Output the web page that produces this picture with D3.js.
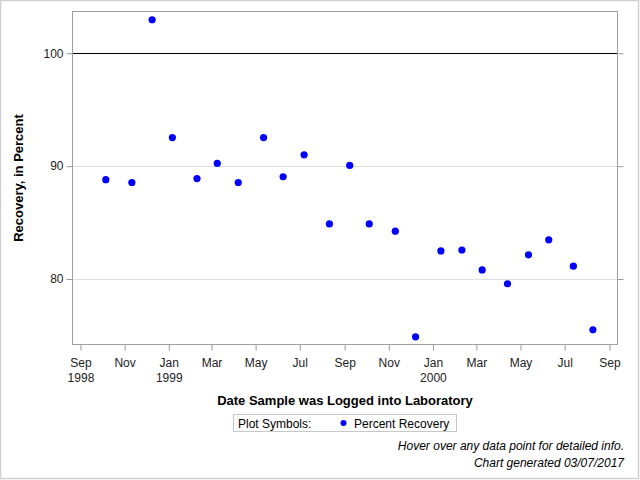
<!DOCTYPE html>
<html>
<head>
<meta charset="utf-8">
<script src="https://cdn.jsdelivr.net/npm/d3@7"></script>
<style>
body { margin: 0; background: #fff; }
text { font-family: "Liberation Sans", Arial, sans-serif; }
</style>
</head>
<body>
<svg id="canvas" width="640" height="480"></svg>
<script>
// sample log dates and percent recovery
var dates = ["1998-10-06", "1998-11-11", "1998-12-09", "1999-01-06", "1999-02-09",
    "1999-03-09", "1999-04-07", "1999-05-12", "1999-06-08", "1999-07-07",
    "1999-08-11", "1999-09-08", "1999-10-05", "1999-11-10", "1999-12-08",
    "2000-01-12", "2000-02-10", "2000-03-09", "2000-04-13", "2000-05-12",
    "2000-06-09", "2000-07-13", "2000-08-09"];
var recovery = [88.8, 88.55, 102.97, 92.53, 88.9,
    90.24, 88.55, 92.53, 89.06, 91.0,
    84.88, 90.06, 84.88, 84.24, 74.88,
    82.49, 82.57, 80.81, 79.58, 82.14,
    83.47, 81.14, 75.5];
var yTicks = [80, 90, 100];
var xTicks = ["1998-09-01", "1998-11-01", "1999-01-01", "1999-03-01", "1999-05-01",
    "1999-07-01", "1999-09-01", "1999-11-01", "2000-01-01", "2000-03-01",
    "2000-05-01", "2000-07-01", "2000-09-01"];

var parse = d3.timeParse("%Y-%m-%d");
var svg = d3.select("#canvas");

var plotL = 72.5, plotR = 617.5, plotT = 11.5, plotB = 344.5;

var x = d3.scaleTime()
    .domain([parse("1998-08-21"), parse("2000-09-12")])
    .range([plotL, plotR]);
var y = d3.scaleLinear()
    .domain([74.2, 103.7])
    .range([plotB, plotT]);

// outer border
svg.append("rect")
    .attr("x", 0.5).attr("y", 0.5)
    .attr("width", 638).attr("height", 478)
    .attr("fill", "none").attr("stroke", "#d0d0d0").attr("stroke-width", 1.5);

// grid lines
svg.selectAll(".grid").data([80, 90]).enter().append("line")
    .attr("x1", plotL).attr("x2", plotR)
    .attr("y1", function(d){ return Math.round(y(d)) + 0.5; })
    .attr("y2", function(d){ return Math.round(y(d)) + 0.5; })
    .attr("stroke", "#e0e0e0");

// reference line at 100
svg.append("line")
    .attr("x1", plotL).attr("x2", plotR)
    .attr("y1", Math.round(y(100)) + 0.5).attr("y2", Math.round(y(100)) + 0.5)
    .attr("stroke", "#000").attr("stroke-width", 1.2);

// axes
var yAxisL = d3.axisLeft(y).tickValues(yTicks).tickSize(6).tickPadding(3);
var gy = svg.append("g").attr("transform", "translate(" + plotL + ",0)").call(yAxisL);
gy.select(".domain").remove();
gy.selectAll("line").attr("stroke", "#999");
gy.selectAll("text").attr("font-size", 12).attr("fill", "#222");

var yAxisR = d3.axisRight(y).tickValues(yTicks).tickSize(6).tickFormat("");
var gyr = svg.append("g").attr("transform", "translate(" + plotR + ",0)").call(yAxisR);
gyr.select(".domain").remove();
gyr.selectAll("line").attr("stroke", "#999");

var xAxis = d3.axisBottom(x).tickValues(xTicks.map(parse)).tickSize(6).tickFormat("");
var gx = svg.append("g").attr("transform", "translate(0," + plotB + ")").call(xAxis);
gx.select(".domain").remove();
gx.selectAll("line").attr("stroke", "#999");

var fmtMonth = d3.timeFormat("%b");
gx.selectAll(".tick").each(function(d, i){
    var t = d3.select(this);
    t.append("text").attr("y", 22).attr("text-anchor", "middle")
        .attr("font-size", 12).attr("fill", "#222").text(fmtMonth(d));
    if (d.getMonth() == 0 || i == 0) {
        t.append("text").attr("y", 37).attr("text-anchor", "middle")
            .attr("font-size", 12).attr("fill", "#222").text(d.getFullYear());
    }
});

// plot frame
svg.append("rect")
    .attr("x", plotL).attr("y", plotT)
    .attr("width", plotR - plotL).attr("height", plotB - plotT)
    .attr("fill", "none").attr("stroke", "#a0a0a0");

// points
svg.selectAll(".pt").data(dates).enter().append("circle")
    .attr("cx", function(d){ return x(parse(d)); })
    .attr("cy", function(d, i){ return y(recovery[i]); })
    .attr("r", 3.6)
    .attr("fill", "#0000ff");

// axis titles
svg.append("text")
    .attr("transform", "translate(23," + ((plotT + plotB) / 2) + ") rotate(-90)")
    .attr("text-anchor", "middle").attr("font-size", 13).attr("font-weight", "bold")
    .text("Recovery, in Percent");
svg.append("text")
    .attr("x", (plotL + plotR) / 2).attr("y", 405)
    .attr("text-anchor", "middle").attr("font-size", 13).attr("font-weight", "bold")
    .text("Date Sample was Logged into Laboratory");

// legend
svg.append("rect")
    .attr("x", 233.5).attr("y", 414.5).attr("width", 223).attr("height", 17)
    .attr("fill", "none").attr("stroke", "#c8c8c8");
svg.append("text").attr("x", 238).attr("y", 427.5).attr("font-size", 12).text("Plot Symbols:");
svg.append("circle").attr("cx", 343.5).attr("cy", 423).attr("r", 3).attr("fill", "#0000ff");
svg.append("text").attr("x", 354).attr("y", 427.5).attr("font-size", 12).text("Percent Recovery");

// footnotes
svg.append("text").attr("x", 624).attr("y", 450).attr("text-anchor", "end")
    .attr("font-size", 12).attr("font-style", "italic")
    .text("Hover over any data point for detailed info.");
svg.append("text").attr("x", 624).attr("y", 467).attr("text-anchor", "end")
    .attr("font-size", 12).attr("font-style", "italic")
    .text("Chart generated 03/07/2017");
</script>
</body>
</html>
